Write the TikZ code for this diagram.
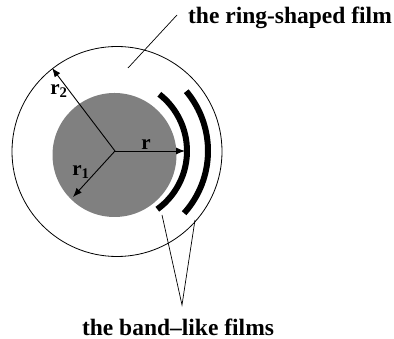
\documentclass[tikz,border=0pt]{standalone}
\usepackage{fontspec}
\setmainfont{Liberation Serif}
\usetikzlibrary{arrows.meta}
\begin{document}
\begin{tikzpicture}[x=1pt,y=1pt,
  bigtxt/.style={font=\fontsize{23.5}{28}\selectfont\bfseries, inner sep=0pt},
  rtxt/.style={font=\fontsize{21}{24}\selectfont\bfseries, inner sep=0pt},
  radius arrow/.style={line width=0.9pt, -{Latex[length=9pt,width=7pt]}},
  band/.style={line width=6pt, line cap=butt},
  thin line/.style={line width=0.7pt}]
\useasboundingbox (0,0) rectangle (394,339);
% centre
\coordinate (O) at (115,188);
% outer ring film
\draw[line width=0.8pt] (117,187.5) circle[radius=105];
% grey disk
\fill[black!50] (114.5,184) circle[radius=62];
% band-like films
\draw[band] (O) ++(-54:72) arc[start angle=-54, end angle=52, radius=72];
\draw[band] (O) ++(-42:93) arc[start angle=-42, end angle=40, radius=93];
% radius arrows
\coordinate (r2end) at (52,271);
\coordinate (r1end) at (73,142);
\coordinate (rend) at (185,188);
\draw[radius arrow] (O) -- (r2end);
\draw[radius arrow] (O) -- (r1end);
\draw[radius arrow] (O) -- (rend);
% radius labels
\node[rtxt] (lr) at (146,194) {r};
\node[rtxt] (lr2) at (59,248) {r$_{\mathbf 2}$};
\node[rtxt] (lr1) at (81,167) {r$_{\mathbf 1}$};
% labels
\node[bigtxt] (ring) at (290,321) {the ring-shaped film};
\node[bigtxt] (bands) at (178,12) {the band--like films};
% leaders
\coordinate (ringpt) at (128,271);
\coordinate (ringtop) at (177,324);
\draw[thin line] (ringpt) -- (ringtop);
\coordinate (b1) at (162,124);
\coordinate (b2) at (195,119);
\coordinate (bj) at (182,34);
\draw[thin line] (b1) -- (bj) -- (b2);
\end{tikzpicture}
\end{document}
